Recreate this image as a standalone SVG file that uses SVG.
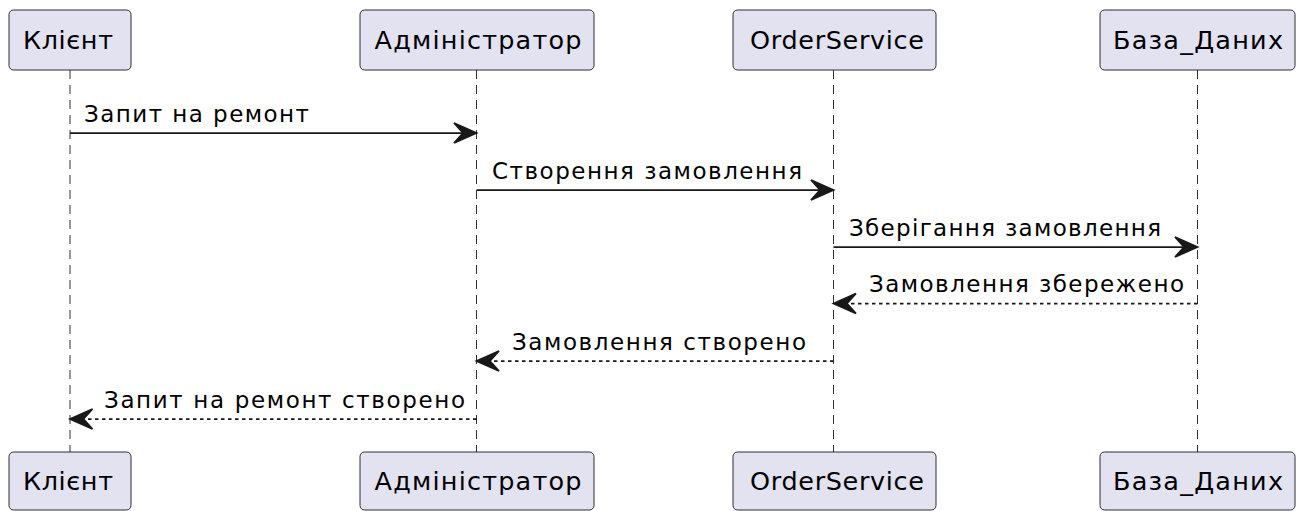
<svg xmlns="http://www.w3.org/2000/svg" width="1303" height="511" viewBox="0 0 1303 511">
<style>
.box{fill:#E2E2F0;stroke:#181818;stroke-width:0.9}
.pt{font-family:"DejaVu Sans",sans-serif;font-size:25.5px;fill:#000;text-anchor:middle}
.mt{font-family:"DejaVu Sans",sans-serif;font-size:23px;fill:#000}
.life{stroke:#181818;stroke-width:0.9;stroke-dasharray:9,6;fill:none}
.msg{stroke:#181818;stroke-width:1.75;fill:none}
.ret{stroke:#181818;stroke-width:1.75;fill:none;stroke-dasharray:3.5,3.5}
.head{fill:#181818;stroke:#181818;stroke-width:1.75;stroke-linejoin:miter}
</style>
<rect width="1303" height="511" fill="#FFFFFF"/>
<g id="lifelines">
<line class="life" x1="70" y1="70" x2="70" y2="452"/>
<line class="life" x1="476.5" y1="70" x2="476.5" y2="452"/>
<line class="life" x1="833.5" y1="70" x2="833.5" y2="452"/>
<line class="life" x1="1197.5" y1="70" x2="1197.5" y2="452"/>
</g>
<g id="klient">
<rect class="box" x="9" y="10" width="122" height="60" rx="4.5"/>
<text class="pt" x="68" y="49" textLength="90" lengthAdjust="spacing">Клієнт</text>
<rect class="box" x="9" y="452" width="122" height="58" rx="4.5"/>
<text class="pt" x="68" y="490" textLength="90" lengthAdjust="spacing">Клієнт</text>
</g>
<g id="admin">
<rect class="box" x="360" y="10" width="234" height="60" rx="4.5"/>
<text class="pt" x="478" y="49" textLength="207" lengthAdjust="spacing">Адміністратор</text>
<rect class="box" x="360" y="452" width="234" height="58" rx="4.5"/>
<text class="pt" x="478" y="490" textLength="207" lengthAdjust="spacing">Адміністратор</text>
</g>
<g id="orderservice">
<rect class="box" x="733" y="10" width="203" height="60" rx="4.5"/>
<text class="pt" x="837" y="49" textLength="174" lengthAdjust="spacing">OrderService</text>
<rect class="box" x="733" y="452" width="203" height="58" rx="4.5"/>
<text class="pt" x="837" y="490" textLength="174" lengthAdjust="spacing">OrderService</text>
</g>
<g id="database">
<rect class="box" x="1100" y="10" width="195" height="60" rx="4.5"/>
<text class="pt" x="1198" y="49" textLength="170" lengthAdjust="spacing">База_Даних</text>
<rect class="box" x="1100" y="452" width="195" height="58" rx="4.5"/>
<text class="pt" x="1198" y="490" textLength="170" lengthAdjust="spacing">База_Даних</text>
</g>
<g id="connectors">
<line class="msg" x1="70" y1="133" x2="474" y2="133"/>
<polygon class="head" points="476.5,133 454,123 463,133 454,143"/>
<text class="mt" x="84" y="121.5" textLength="225" lengthAdjust="spacing">Запит на ремонт</text>

<line class="msg" x1="476.5" y1="190" x2="831" y2="190"/>
<polygon class="head" points="833.5,190 811,180 820,190 811,200"/>
<text class="mt" x="492" y="178.5" textLength="310" lengthAdjust="spacing">Створення замовлення</text>

<line class="msg" x1="833.5" y1="247" x2="1195" y2="247"/>
<polygon class="head" points="1197.5,247 1175,237 1184,247 1175,257"/>
<text class="mt" x="849" y="235.5" textLength="312" lengthAdjust="spacing">Зберігання замовлення</text>

<line class="ret" x1="1197.5" y1="303.5" x2="836" y2="303.5"/>
<polygon class="head" points="833.5,303.5 856,293.5 847,303.5 856,313.5"/>
<text class="mt" x="869" y="292" textLength="315" lengthAdjust="spacing">Замовлення збережено</text>

<line class="ret" x1="833.5" y1="361" x2="479" y2="361"/>
<polygon class="head" points="476.5,361 499,351 490,361 499,371"/>
<text class="mt" x="512" y="349.5" textLength="294" lengthAdjust="spacing">Замовлення створено</text>

<line class="ret" x1="476.5" y1="419" x2="72.5" y2="419"/>
<polygon class="head" points="70,419 92.5,409 83.5,419 92.5,429"/>
<text class="mt" x="104" y="407.5" textLength="361" lengthAdjust="spacing">Запит на ремонт створено</text>
</g>
</svg>
